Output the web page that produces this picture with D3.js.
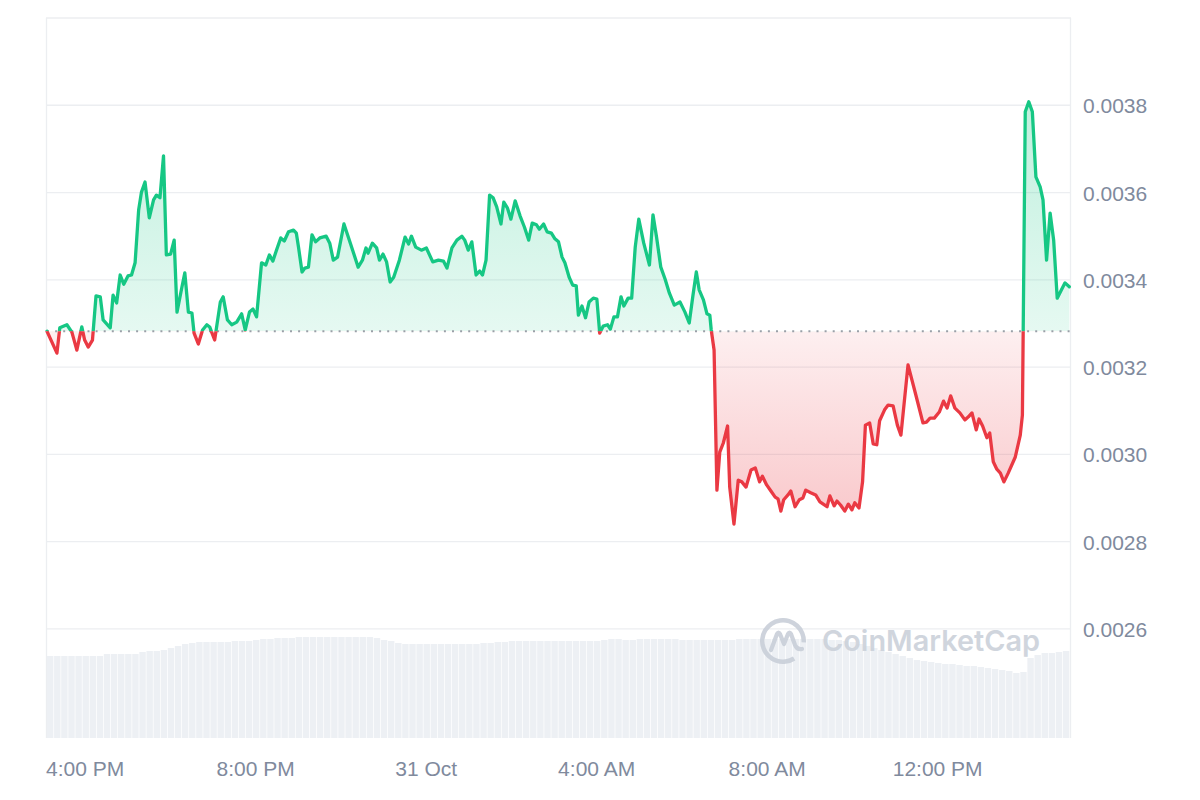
<!DOCTYPE html>
<html>
<head>
<meta charset="utf-8">
<script src="https://cdn.jsdelivr.net/npm/d3@7"></script>
<style>
html,body{margin:0;padding:0;background:#ffffff;}
svg{display:block;font-family:"Liberation Sans",Arial,Helvetica,sans-serif;}
</style>
</head>
<body>
<svg id="chart" width="1200" height="800"></svg>
<script>
// ---------------- DATA ----------------
// 24h window start (local time), minutes offset of each price sample
const startTime = new Date(2023, 9, 30, 15, 7);
const rangeMinutes = 1440;

const minutes = [
  0,14,18,28,35,42,49,53,58,64,69,75,79,89,93,98,103,108,114,119,
  124,129,133,138,144,150,154,159,164,168,174,179,183,190,194,199,204,207,213,219,
  225,229,236,244,248,254,260,267,274,279,285,290,295,302,308,313,318,323,329,334,
  340,347,351,354,359,363,368,373,378,384,393,398,403,409,418,427,438,444,449,452,
  458,464,468,473,478,483,488,496,504,509,513,519,527,534,543,551,558,563,570,577,
  584,588,593,598,604,609,613,618,623,628,633,639,643,648,653,659,666,672,678,683,
  689,693,699,704,710,715,720,725,729,735,740,745,748,753,758,763,769,774,778,783,
  789,793,798,803,808,812,818,823,828,833,840,848,853,858,864,870,876,883,891,898,
  904,909,914,918,924,929,933,935,939,943,947,952,958,961,967,973,978,984,991,997,
  1003,1007,1013,1019,1025,1029,1033,1037,1043,1047,1053,1059,1064,1068,1075,1082,1088,1098,1102,1108,
  1112,1117,1123,1128,1133,1137,1143,1148,1152,1158,1163,1168,1172,1179,1184,1191,1197,1202,1212,1223,
  1233,1238,1243,1249,1256,1262,1267,1272,1278,1285,1292,1297,1302,1308,1312,1317,1323,1327,1332,1337,
  1342,1347,1353,1363,1370,1373,1377,1382,1387,1392,1398,1402,1407,1412,1417,1422,1428,1433,1439
];

const prices = [
  0.003282,0.003232,0.003290,0.003297,0.003280,0.003239,0.003292,0.003262,0.003246,0.003262,
  0.003363,0.003361,0.003308,0.003290,0.003365,0.003347,0.003411,0.003390,0.003409,0.003411,
  0.003439,0.003560,0.003601,0.003624,0.003542,0.003583,0.003594,0.003588,0.003684,0.003457,
  0.003459,0.003491,0.003326,0.003384,0.003416,0.003326,0.003324,0.003278,0.003253,0.003285,
  0.003297,0.003292,0.003262,0.003349,0.003361,0.003308,0.003297,0.003303,0.003322,0.003285,
  0.003326,0.003333,0.003315,0.003439,0.003434,0.003457,0.003443,0.003468,0.003496,0.003489,
  0.003510,0.003514,0.003507,0.003475,0.003418,0.003427,0.003429,0.003503,0.003487,0.003496,
  0.003500,0.003484,0.003445,0.003452,0.003528,0.003484,0.003429,0.003445,0.003473,0.003461,
  0.003484,0.003473,0.003445,0.003459,0.003441,0.003395,0.003406,0.003445,0.003498,0.003482,
  0.003500,0.003475,0.003468,0.003473,0.003441,0.003445,0.003443,0.003427,0.003473,0.003491,
  0.003500,0.003491,0.003468,0.003487,0.003411,0.003420,0.003411,0.003445,0.003594,0.003588,
  0.003567,0.003528,0.003578,0.003565,0.003539,0.003581,0.003546,0.003521,0.003491,0.003530,
  0.003526,0.003516,0.003528,0.003510,0.003507,0.003494,0.003487,0.003452,0.003439,0.003406,
  0.003388,0.003386,0.003319,0.003340,0.003313,0.003349,0.003358,0.003356,0.003278,0.003294,
  0.003297,0.003287,0.003315,0.003315,0.003361,0.003340,0.003358,0.003358,0.003475,0.003539,
  0.003484,0.003434,0.003549,0.003498,0.003429,0.003402,0.003370,0.003342,0.003349,0.003326,
  0.003301,0.003361,0.003418,0.003377,0.003354,0.003322,0.003319,0.003285,0.003239,0.002918,
  0.003005,0.003026,0.003065,0.002925,0.002840,0.002941,0.002937,0.002925,0.002964,0.002969,
  0.002937,0.002950,0.002930,0.002916,0.002902,0.002898,0.002870,0.002896,0.002907,0.002916,
  0.002880,0.002896,0.002900,0.002918,0.002912,0.002907,0.002891,0.002880,0.002905,0.002882,
  0.002893,0.002884,0.002870,0.002886,0.002873,0.002889,0.002877,0.002937,0.003067,0.003072,
  0.003024,0.003022,0.003077,0.003102,0.003113,0.003111,0.003067,0.003044,0.003205,0.003136,
  0.003072,0.003074,0.003083,0.003083,0.003097,0.003122,0.003106,0.003134,0.003106,0.003095,
  0.003079,0.003086,0.003095,0.003056,0.003081,0.003065,0.003038,0.003049,0.002983,0.002966,
  0.002957,0.002937,0.002957,0.002994,0.003044,0.003090,0.003785,0.003808,0.003785,0.003636,
  0.003613,0.003583,0.003445,0.003553,0.003491,0.003358,0.003377,0.003393,0.003384
];

// 24h volume, one bar per 10 minutes (USD)
const volumeStepMinutes = 10;
const volumes = [
  82000,82000,82000,82000,82000,82000,82000,82000,84000,84000,84000,84000,
  84000,86000,87000,87000,88000,90000,92000,94000,95000,96000,96000,96000,
  96000,96000,97000,97000,97000,98000,99000,99000,100000,100000,100000,101000,
  101000,101000,101000,101000,101000,101000,101000,101000,101000,101000,100000,98000,
  97000,95000,94000,94000,94000,94000,94000,94000,94000,94000,94000,94000,
  94000,95000,95000,96000,96000,97000,97000,97000,97000,97000,97000,97000,
  97000,97000,97000,97000,97000,97000,98000,99000,99000,98000,98000,99000,
  99000,99000,99000,99000,99000,98000,98000,98000,98000,98000,98000,98000,
  98000,99000,99000,99000,99000,99000,99000,99000,99000,99000,99000,99000,
  99000,99000,98000,98000,97000,96000,94000,92000,90000,88000,86000,84000,
  82000,80000,78000,77000,76000,75000,74000,74000,73000,72000,72000,71000,
  70000,69000,68000,67000,65000,66000,80000,83000,85000,85000,86000,87000
];

const yTicks = [0.0026, 0.0028, 0.0030, 0.0032, 0.0034, 0.0036, 0.0038];
const yDomain = [0.00235, 0.0040];
const volDomain = [0, 120000];

// ---------------- CHART ----------------
const GREEN = "#16c784", RED = "#ea3943";
const svg = d3.select("#chart");
const L = 47, R = 1070, T = 18, B = 738;

const endTime = new Date(startTime.getTime() + rangeMinutes * 60000);
const x = d3.scaleTime().domain([startTime, endTime]).range([L, R]);
const y = d3.scaleLinear().domain(yDomain).range([B, T]);
const yVol = d3.scaleLinear().domain(volDomain).range([B, B - 120]);

const data = minutes.map((m, i) => ({ t: new Date(startTime.getTime() + m * 60000), p: prices[i] }));
const base = prices[0];
const yb = y(base);

const defs = svg.append("defs");
defs.append("clipPath").attr("id", "clipUp").append("rect")
  .attr("x", L - 5).attr("y", T - 10).attr("width", R - L + 10).attr("height", yb - T + 10);
defs.append("clipPath").attr("id", "clipDown").append("rect")
  .attr("x", L - 5).attr("y", yb).attr("width", R - L + 10).attr("height", B - yb + 10);

const gG = defs.append("linearGradient").attr("id", "gradG").attr("gradientUnits", "userSpaceOnUse")
  .attr("x1", 0).attr("x2", 0).attr("y1", y(0.0038)).attr("y2", yb);
gG.append("stop").attr("offset", 0).attr("stop-color", GREEN).attr("stop-opacity", 0.27);
gG.append("stop").attr("offset", 1).attr("stop-color", GREEN).attr("stop-opacity", 0.11);
const gR = defs.append("linearGradient").attr("id", "gradR").attr("gradientUnits", "userSpaceOnUse")
  .attr("x1", 0).attr("x2", 0).attr("y1", yb).attr("y2", y(0.0028));
gR.append("stop").attr("offset", 0).attr("stop-color", RED).attr("stop-opacity", 0.08);
gR.append("stop").attr("offset", 1).attr("stop-color", RED).attr("stop-opacity", 0.30);

// frame + grid
const gridColor = "#eceef1";
svg.append("g").selectAll("line").data(yTicks).join("line")
  .attr("x1", L - 1).attr("x2", R + 1)
  .attr("y1", d => y(d)).attr("y2", d => y(d))
  .attr("stroke", gridColor).attr("stroke-width", 1.3);
svg.append("line").attr("x1", L - 1).attr("x2", R + 1).attr("y1", T).attr("y2", T)
  .attr("stroke", gridColor).attr("stroke-width", 1.3);
svg.append("line").attr("x1", L - 0.5).attr("x2", L - 0.5).attr("y1", T).attr("y2", B)
  .attr("stroke", gridColor).attr("stroke-width", 1.3);
svg.append("line").attr("x1", R + 0.5).attr("x2", R + 0.5).attr("y1", T).attr("y2", B)
  .attr("stroke", gridColor).attr("stroke-width", 1.3);

// volume bars
const vx = i => x(new Date(startTime.getTime() + i * volumeStepMinutes * 60000));
svg.append("g").selectAll("rect").data(volumes).join("rect")
  .attr("x", (d, i) => vx(i))
  .attr("width", (d, i) => Math.max(0, vx(i + 1) - vx(i) - 0.7))
  .attr("y", d => yVol(d))
  .attr("height", d => B - yVol(d))
  .attr("fill", "#edf0f4");

// watermark
const wm = svg.append("g").attr("opacity", 0.9);
const cx = 783, cy = 641;
wm.append("path")
  .attr("transform", `translate(${cx},${cy})`)
  .attr("d", d3.arc().innerRadius(18.5).outerRadius(23).startAngle(0.82 * Math.PI).endAngle(2.52 * Math.PI)())
  .attr("fill", "#c9cfd9");
wm.append("path")
  .attr("transform", `translate(${cx},${cy})`)
  .attr("d", "M-12,9 L-6,-7 Q-4.5,-10 -3,-7 L1,3 L5,-7 Q6.5,-10 8,-7 L12,4 Q14,9 19,8")
  .attr("fill", "none").attr("stroke", "#c9cfd9").attr("stroke-width", 4.2)
  .attr("stroke-linecap", "round").attr("stroke-linejoin", "round");
wm.append("text").attr("x", 822).attr("y", 651)
  .attr("font-family", "Inter, 'Noto Sans', sans-serif").attr("font-weight", 600)
  .attr("font-size", 29).attr("fill", "#cbd1da")
  .attr("textLength", 218).attr("lengthAdjust", "spacingAndGlyphs")
  .text("CoinMarketCap");

// price area + line
const area = d3.area().x(d => x(d.t)).y0(yb).y1(d => y(d.p));
const line = d3.line().x(d => x(d.t)).y(d => y(d.p));

svg.append("path").datum(data).attr("d", area).attr("fill", "url(#gradG)").attr("clip-path", "url(#clipUp)");
svg.append("path").datum(data).attr("d", area).attr("fill", "url(#gradR)").attr("clip-path", "url(#clipDown)");

// baseline dotted
svg.append("line").attr("x1", L).attr("x2", R).attr("y1", yb).attr("y2", yb)
  .attr("stroke", "#9aa0a8").attr("stroke-width", 2).attr("stroke-dasharray", "2 6.1");

svg.append("path").datum(data).attr("d", line).attr("fill", "none")
  .attr("stroke", GREEN).attr("stroke-width", 3.3).attr("stroke-linejoin", "round").attr("stroke-linecap", "round")
  .attr("clip-path", "url(#clipUp)");
svg.append("path").datum(data).attr("d", line).attr("fill", "none")
  .attr("stroke", RED).attr("stroke-width", 3.3).attr("stroke-linejoin", "round").attr("stroke-linecap", "round")
  .attr("clip-path", "url(#clipDown)");

// y axis labels
const yAxis = d3.axisRight(y).tickValues(yTicks).tickFormat(d3.format(".4f")).tickSize(0).tickPadding(0);
const gy = svg.append("g").attr("transform", `translate(${R + 13},0)`).call(yAxis);
gy.select(".domain").remove();
gy.selectAll("text").attr("fill", "#808a9d").attr("font-size", 21)
  .attr("font-family", "'Liberation Sans', Arial, sans-serif").attr("x", 0).attr("dy", "0.36em");

// x axis labels
const xTicks = d3.timeHour.every(4).range(startTime, endTime);
const fmt = d => (d.getHours() === 0 ? d3.timeFormat("%-d %b")(d) : d3.timeFormat("%-I:%M %p")(d));
const xAxis = d3.axisBottom(x).tickValues(xTicks).tickFormat(fmt).tickSize(0).tickPadding(0);
const gx = svg.append("g").attr("transform", `translate(0,${B})`).call(xAxis);
gx.select(".domain").remove();
gx.selectAll("text").attr("fill", "#808a9d").attr("font-size", 21)
  .attr("font-family", "'Liberation Sans', Arial, sans-serif").attr("dy", 0).attr("y", 38);
</script>
</body>
</html>
